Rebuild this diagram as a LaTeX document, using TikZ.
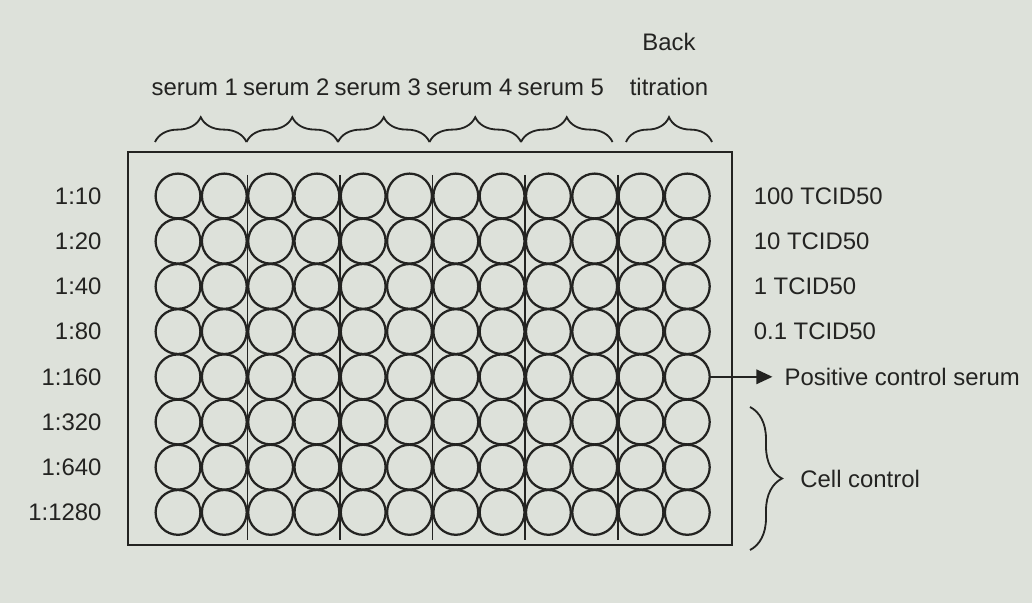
\documentclass[tikz,border=0pt]{standalone}
\usepackage{fontspec}
\setmainfont{Liberation Sans}
\usetikzlibrary{positioning, calc, arrows.meta, decorations.pathreplacing}
\definecolor{paper}{RGB}{221,225,218}
\definecolor{ink}{RGB}{35,35,33}

\begin{document}
\begin{tikzpicture}[x=0.025cm,y=-0.025cm,
        every node/.style={text=ink, font=\fontsize{17}{20}\selectfont},
        well/.style={circle, draw=ink, line width=1.6pt, minimum size=1.12cm, inner sep=0pt},
        bracetop/.style={draw=ink, line width=1.3pt, decorate, decoration={brace, amplitude=0.62cm}},
        braceside/.style={draw=ink, line width=1.3pt, decorate, decoration={brace, amplitude=0.8cm}}]
        %sfondo
        \fill[paper] (0,0) rectangle (1032,603);
        \useasboundingbox (0,0) rectangle (1032,603);
        %piastra
        \draw[ink, line width=1.5pt] (128,152) rectangle (732,545);
        %pozzetti
        \foreach \r in {1,...,8}
            \foreach \c in {1,...,12}
                \node[well] (w-\r-\c) at ({178+46.3*(\c-1)},{196+45.2*(\r-1)}) {};
        %separatori tra i sieri
        \foreach \k in {1,...,5}
            \draw[ink, line width=1.2pt] ({178+46.3*(2*\k-0.5)},175) -- ({178+46.3*(2*\k-0.5)},540);
        %diluizioni
        \foreach \lab [count=\r] in {1:10,1:20,1:40,1:80,1:160,1:320,1:640,1:1280}
            \node[left=1.2cm of w-\r-1.west] (dil-\r) {\lab};
        %dosi virus
        \foreach \lab [count=\r] in {100 TCID50,10 TCID50,1 TCID50,0.1 TCID50}
            \node[right=0.95cm of w-\r-12.east] (dose-\r) {\lab};
        %graffe sieri
        \foreach \k in {1,...,5}{
            \coordinate (sa-\k) at ({155+91.5*(\k-1)},142);
            \coordinate (sb-\k) at ({155+91.5*\k},142);
            \draw[bracetop] (sa-\k) -- (sb-\k);
            \node (serum-\k) at ($(sa-\k)!0.5!(sb-\k)+(-6,-55)$) {serum \k};
        }
        %graffa retrotitolazione
        \coordinate (ta) at (626,142);
        \coordinate (tb) at (712,142);
        \draw[bracetop] (ta) -- (tb);
        \node (titr) at ($(ta)!0.5!(tb)+(0,-55)$) {titration};
        \node (back) at ($(titr)+(0,-45)$) {Back};
        %controllo positivo
        \node[right=1.72cm of w-5-12.east] (pos) {Positive control serum};
        \draw[ink, line width=1.3pt, -{Triangle[length=0.4cm,width=0.36cm]}, shorten >=0.18cm] (w-5-12.east) -- (pos.west);
        %controllo cellule
        \coordinate (cc-top) at (750,407);
        \coordinate (cc-bot) at (750,550);
        \draw[braceside] (cc-top) -- (cc-bot) node[midway, right=1.12cm] (cell) {Cell control};
\end{tikzpicture}
\end{document}
